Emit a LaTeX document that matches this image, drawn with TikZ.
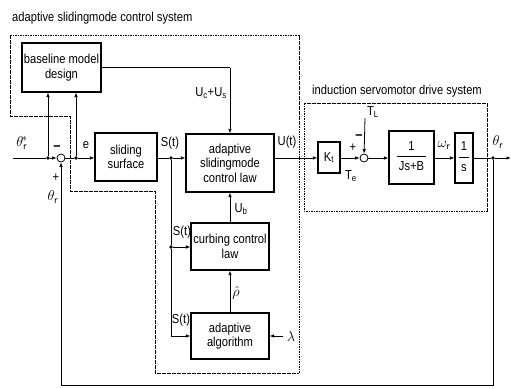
\documentclass[tikz,border=0pt]{standalone}
\usepackage{fontspec}
\setmainfont[FakeStretch=0.86]{Liberation Sans}
\usetikzlibrary{arrows.meta}
\begin{document}
\begin{tikzpicture}[x=1pt,y=-1pt,
  font=\fontsize{13}{14.5}\selectfont,
  blk/.style={draw, line width=1.1pt, align=center, inner sep=0pt},
  sig/.style={line width=0.8pt, -{Latex[length=4.5pt,width=3.5pt]}},
  ln/.style={line width=0.8pt},
  sumj/.style={draw, circle, line width=0.8pt, minimum size=8pt, inner sep=0pt},
  jdot/.style={circle, fill, inner sep=0pt, minimum size=3.6pt},
  region/.style={line width=0.6pt, dash pattern=on 1.6pt off 0.9pt},
  lbl/.style={inner sep=0pt},
  mlbl/.style={inner sep=0pt, font=\fontsize{15}{17}\selectfont}]
\useasboundingbox (0,0) rectangle (511,388);

% regions
\draw[region] (10,35) -- (299,35) -- (299,373) -- (155,373) -- (155,191)
  -- (70,191) -- (70,116) -- (10,116) -- cycle;
\draw[region] (304,103) rectangle (487,211);
\node[lbl, anchor=west] (t1) at (12,18) {adaptive slidingmode control system};
\node[lbl] (t2) at (397,91) {induction servomotor drive system};

% blocks
\node[blk, minimum width=79pt, minimum height=49pt] (base) at (61.5,67.5) {baseline model\\design};
\node[blk, minimum width=62pt, minimum height=48pt] (slid) at (126,157) {sliding\\surface};
\node[blk, minimum width=88pt, minimum height=58pt] (adap) at (230,163) {adaptive\\slidingmode\\control law};
\node[blk, minimum width=78pt, minimum height=47pt] (curb) at (230,246.5) {curbing control\\law};
\node[blk, minimum width=78pt, minimum height=46pt] (alg) at (230,336) {adaptive\\algorithm};
\node[blk, minimum width=22pt, minimum height=31pt] (kt) at (329,157.5) {K\textsubscript{t}};
\node[blk, minimum width=45pt, minimum height=53pt] (jsb) at (411.5,157.5)
  {\begin{tabular}{@{\,}c@{\,}}1\\[2pt]\hline\rule{0pt}{14pt}Js+B\end{tabular}};
\node[blk, minimum width=18pt, minimum height=50pt] (ints) at (464,158)
  {\begin{tabular}{@{\,}c@{\,}}1\\[2pt]\hline\rule{0pt}{14pt}s\end{tabular}};

% summing junctions and dots
\node[sumj] (s1) at (61,158) {};
\node[sumj] (s2) at (364,158) {};
\node[jdot] (din) at (48,158) {};
\node[jdot] (de) at (76,158) {};
\node[jdot] (ds) at (171,158) {};
\node[jdot] (ds2) at (171,247) {};
\node[jdot] (dth) at (493,158) {};

\coordinate (in) at (13,158);
\coordinate (out) at (511,158);
\coordinate (tl) at (365,118);
\coordinate (lam) at (283,336);
\coordinate (fbr) at (493,385);
\coordinate (fbl) at (61,385);
\coordinate (bc) at (230,67.5);

% main path
\draw[ln] (in) -- (din);
\draw[sig] (din) -- (s1);
\draw[ln] (s1) -- (de);
\draw[sig] (de) -- (de -| slid.west);
\draw[ln] (slid.east |- ds) -- (ds);
\draw[sig] (ds) -- (ds -| adap.west);
\draw[sig] (adap.east |- ds) -- (kt.west |- ds);
\draw[sig] (kt.east |- s2) -- (s2);
\draw[sig] (tl) -- (s2);
\draw[sig] (s2) -- (jsb.west |- s2);
\draw[sig] (jsb.east |- ints) -- (ints.west);
\draw[ln] (ints.east) -- (dth);
\draw[sig] (dth) -- (out);

% baseline model
\draw[sig] (din) -- (din |- base.south);
\draw[sig] (de) -- (de |- base.south);
\draw[ln] (base.east) -- (bc);
\draw[sig] (bc) -- (adap.north);

% lower branch
\draw[ln] (ds) -- (ds2);
\draw[sig] (ds2) -- (ds2 -| curb.west);
\draw[ln] (ds2) -- (ds2 |- alg.west);
\draw[sig] (ds2 |- alg.west) -- (alg.west);
\draw[sig] (curb.north) -- (adap.south);
\draw[sig] (alg.north) -- (curb.south);
\draw[sig] (lam) -- (alg.east);

% feedback
\draw[ln] (dth) -- (fbr) -- (fbl);
\draw[sig] (fbl) -- (s1.south);

% labels
\node[mlbl] (l1) at (22,143) {$\theta_{\mathsf r}^{\!*}$};
\node[mlbl] (l2) at (57,148) {\textbf{–}};
\node[lbl] (l3) at (56,178) {+};
\node[mlbl] (l4) at (53,197) {$\theta_{\mathsf r}$};
\node[lbl] (l5) at (86,145) {e};
\node[lbl] (l6) at (170,143) {S(t)};
\node[lbl] (l7) at (182,232) {S(t)};
\node[lbl] (l8) at (181,320) {S(t)};
\node[lbl] (l9) at (211,93) {U\textsubscript{c}+U\textsubscript{s}};
\node[lbl] (l10) at (241,209) {U\textsubscript{b}};
\node[mlbl] (l11) at (236,293) {$\hat\rho$};
\node[mlbl] (l12) at (291,336) {$\lambda$};
\node[lbl] (l13) at (287,142) {U(t)};
\node[lbl] (l14) at (353,148) {+};
\node[mlbl] (l15) at (359,137) {\textbf{–}};
\node[lbl] (l16) at (373,112) {T\textsubscript{L}};
\node[lbl] (l17) at (351,176) {T\textsubscript{e}};
\node[mlbl] (l18) at (444,145) {$\omega_{\mathsf r}$};
\node[mlbl] (l19) at (498,142) {$\theta_{\mathsf r}$};
\end{tikzpicture}
\end{document}
